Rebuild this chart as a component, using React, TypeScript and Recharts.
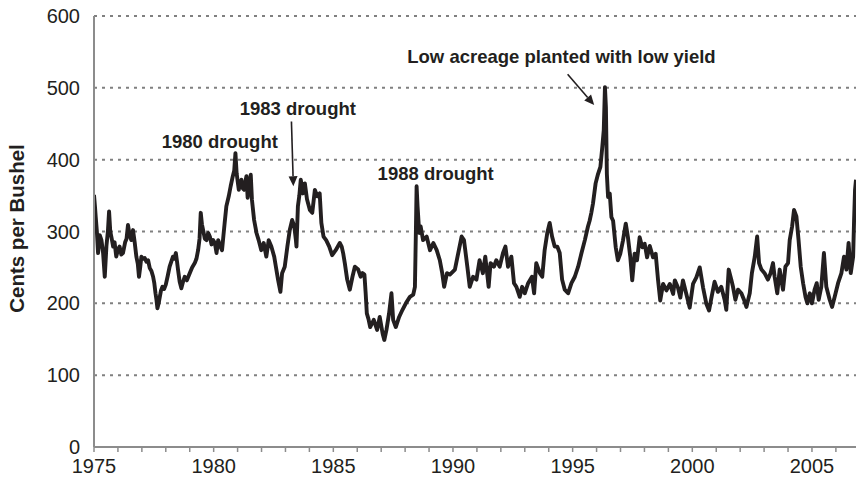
import React from 'react'
import {
  LineChart,
  Line,
  XAxis,
  YAxis,
  CartesianGrid,
  ReferenceLine,
  ReferenceDot
} from 'recharts'

// weekly-ish corn price readings, [year, cents per bushel]
const prices1975to1979: [number, number][] = [
  [1975.0, 351], [1975.04, 335], [1975.07, 321], [1975.12, 300], [1975.17, 270], [1975.24, 295],
  [1975.31, 288], [1975.38, 270], [1975.45, 237], [1975.52, 280], [1975.58, 300], [1975.63, 328],
  [1975.68, 300], [1975.74, 290], [1975.8, 279], [1975.86, 285], [1975.93, 265], [1976.0, 275],
  [1976.07, 279], [1976.14, 268], [1976.21, 270], [1976.3, 285], [1976.36, 290], [1976.42, 309],
  [1976.49, 295], [1976.56, 288], [1976.63, 302], [1976.7, 285], [1976.77, 265], [1976.83, 255],
  [1976.88, 237], [1976.93, 250], [1976.98, 265], [1977.05, 262], [1977.12, 263], [1977.19, 258],
  [1977.26, 260], [1977.33, 249], [1977.4, 245], [1977.47, 237], [1977.52, 228], [1977.57, 214],
  [1977.61, 205], [1977.65, 193], [1977.7, 200], [1977.75, 209], [1977.8, 218], [1977.86, 223],
  [1977.93, 220], [1978.0, 226], [1978.08, 238], [1978.16, 251], [1978.23, 258], [1978.3, 265],
  [1978.36, 262], [1978.42, 270], [1978.47, 258], [1978.51, 247], [1978.58, 230], [1978.65, 221],
  [1978.72, 230], [1978.79, 237], [1978.88, 232], [1979.0, 242], [1979.1, 250], [1979.21, 256],
  [1979.28, 262], [1979.35, 274], [1979.41, 290], [1979.46, 326], [1979.51, 310], [1979.56, 302],
  [1979.63, 290], [1979.7, 288], [1979.77, 298], [1979.84, 293], [1979.91, 282], [1979.98, 288]
]

const prices1980to1984: [number, number][] = [
  [1980.05, 284], [1980.12, 270], [1980.19, 288], [1980.27, 280], [1980.35, 274], [1980.41, 295],
  [1980.46, 312], [1980.53, 335], [1980.63, 349], [1980.71, 363], [1980.8, 377], [1980.86, 385],
  [1980.91, 409], [1980.96, 381], [1981.05, 358], [1981.1, 368], [1981.16, 372], [1981.22, 360],
  [1981.27, 358], [1981.33, 370], [1981.37, 377], [1981.42, 347], [1981.48, 362], [1981.55, 379],
  [1981.6, 344], [1981.69, 316], [1981.79, 298], [1981.88, 288], [1981.99, 274], [1982.09, 284],
  [1982.2, 265], [1982.3, 288], [1982.41, 279], [1982.53, 265], [1982.6, 251], [1982.69, 233],
  [1982.79, 216], [1982.86, 242], [1982.97, 251], [1983.08, 279], [1983.18, 302], [1983.28, 316],
  [1983.37, 307], [1983.43, 290], [1983.46, 279], [1983.52, 335], [1983.58, 350], [1983.64, 372],
  [1983.73, 353], [1983.81, 367], [1983.9, 345], [1984.02, 330], [1984.12, 326], [1984.23, 358],
  [1984.33, 349], [1984.43, 353], [1984.5, 312], [1984.59, 293], [1984.7, 288], [1984.83, 279],
  [1984.95, 267]
]

const prices1985to1989: [number, number][] = [
  [1985.1, 274], [1985.27, 284], [1985.35, 279], [1985.41, 270], [1985.48, 256], [1985.58, 233],
  [1985.69, 219], [1985.8, 237], [1985.9, 251], [1986.04, 247], [1986.14, 237], [1986.22, 242],
  [1986.3, 240], [1986.35, 215], [1986.4, 186], [1986.47, 178], [1986.54, 167], [1986.69, 177],
  [1986.83, 163], [1986.94, 181], [1987.06, 158], [1987.13, 149], [1987.22, 163], [1987.33, 186],
  [1987.43, 214], [1987.5, 177], [1987.61, 167], [1987.75, 181], [1987.89, 191], [1988.03, 200],
  [1988.2, 209], [1988.34, 212], [1988.41, 223], [1988.45, 300], [1988.48, 363], [1988.52, 335],
  [1988.59, 298], [1988.65, 307], [1988.75, 288], [1988.9, 293], [1989.04, 274], [1989.18, 284],
  [1989.32, 274], [1989.45, 260], [1989.55, 242], [1989.63, 223], [1989.75, 242], [1989.87, 240]
]

const prices1990to1994: [number, number][] = [
  [1990.08, 247], [1990.22, 270], [1990.36, 293], [1990.46, 288], [1990.6, 251], [1990.7, 223],
  [1990.84, 237], [1990.98, 233], [1991.11, 260], [1991.25, 242], [1991.35, 265], [1991.49, 223],
  [1991.57, 256], [1991.71, 251], [1991.81, 260], [1991.95, 251], [1992.09, 270], [1992.19, 279],
  [1992.3, 251], [1992.44, 265], [1992.55, 228], [1992.65, 223], [1992.79, 209], [1992.89, 223],
  [1993.0, 214], [1993.14, 228], [1993.3, 237], [1993.39, 214], [1993.48, 256], [1993.63, 242],
  [1993.73, 237], [1993.83, 274], [1993.94, 298], [1994.04, 312], [1994.14, 293], [1994.25, 279],
  [1994.36, 279], [1994.46, 270], [1994.56, 233], [1994.67, 219], [1994.81, 214], [1994.95, 228]
]

const prices1995to1999: [number, number][] = [
  [1995.09, 237], [1995.23, 251], [1995.37, 270], [1995.51, 288], [1995.64, 307], [1995.71, 315],
  [1995.78, 326], [1995.85, 339], [1995.96, 367], [1996.06, 380], [1996.16, 390], [1996.24, 418],
  [1996.3, 441], [1996.35, 501], [1996.39, 473], [1996.43, 380], [1996.48, 348], [1996.55, 353],
  [1996.62, 320], [1996.69, 315], [1996.8, 278], [1996.89, 260], [1996.99, 269], [1997.1, 287],
  [1997.22, 311], [1997.31, 292], [1997.41, 264], [1997.49, 232], [1997.59, 269], [1997.69, 260],
  [1997.8, 292], [1997.91, 278], [1998.01, 283], [1998.11, 264], [1998.22, 280], [1998.36, 264],
  [1998.47, 269], [1998.57, 232], [1998.66, 204], [1998.78, 227], [1998.92, 218], [1999.06, 227],
  [1999.2, 213], [1999.27, 232], [1999.4, 222], [1999.5, 208], [1999.61, 232], [1999.75, 213],
  [1999.89, 194]
]

const prices2000to2006: [number, number][] = [
  [2000.03, 227], [2000.17, 236], [2000.31, 250], [2000.45, 222], [2000.59, 199], [2000.7, 190],
  [2000.8, 208], [2000.93, 230], [2001.07, 216], [2001.21, 223], [2001.35, 205], [2001.42, 191],
  [2001.52, 247], [2001.63, 233], [2001.7, 223], [2001.8, 205], [2001.91, 219], [2002.05, 214],
  [2002.16, 205], [2002.26, 195], [2002.4, 214], [2002.49, 242], [2002.61, 265], [2002.71, 293],
  [2002.79, 256], [2002.89, 247], [2003.02, 242], [2003.16, 233], [2003.27, 242], [2003.37, 256],
  [2003.44, 237], [2003.55, 214], [2003.65, 247], [2003.79, 219], [2003.89, 251], [2004.0, 256],
  [2004.07, 288], [2004.17, 307], [2004.25, 330], [2004.35, 321], [2004.44, 288], [2004.53, 251],
  [2004.63, 228], [2004.73, 209], [2004.81, 200], [2004.91, 214], [2005.0, 200], [2005.11, 219],
  [2005.2, 228], [2005.28, 205], [2005.39, 223], [2005.5, 270], [2005.6, 223], [2005.74, 205],
  [2005.84, 195], [2005.95, 209], [2006.09, 228], [2006.23, 242], [2006.34, 265], [2006.44, 247],
  [2006.53, 284], [2006.62, 242], [2006.72, 265], [2006.76, 316], [2006.8, 358], [2006.84, 372]
]

const tickYears = [
  1975, 1976, 1977, 1978, 1979, 1980, 1981, 1982, 1983, 1984, 1985, 1986, 1987, 1988, 1989, 1990,
  1991, 1992, 1993, 1994, 1995, 1996, 1997, 1998, 1999, 2000, 2001, 2002, 2003, 2004, 2005, 2006
]
const yTicks = [0, 100, 200, 300, 400, 500, 600]

// text annotations: [year, cents] of the text start / baseline
const notes: { text: string; t: number; v: number }[] = [
  { text: '1980 drought', t: 1977.83, v: 416 },
  { text: '1983 drought', t: 1981.09, v: 462 },
  { text: '1988 drought', t: 1986.85, v: 371 },
  { text: 'Low acreage planted with low yield', t: 1988.09, v: 535 }
]

// arrows: from -> tip
const arrows: { from: [number, number]; to: [number, number] }[] = [
  { from: [1983.25, 453], to: [1983.33, 363] },
  { from: [1994.79, 519], to: [1995.9, 476] }
]

const data = [
  ...prices1975to1979,
  ...prices1980to1984,
  ...prices1985to1989,
  ...prices1990to1994,
  ...prices1995to1999,
  ...prices2000to2006
].map(([t, v]) => ({ t, v }))

const INK = '#231f20'
const FONT = '"Liberation Sans", Arial, Helvetica, sans-serif'

const Arrow = (props: any) => {
  const { x1, y1, x2, y2 } = props
  const dx = x2 - x1
  const dy = y2 - y1
  const len = Math.sqrt(dx * dx + dy * dy) || 1
  const ux = dx / len
  const uy = dy / len
  const head = 10
  const half = 4.5
  const bx = x2 - ux * head
  const by = y2 - uy * head
  return (
    <g>
      <line x1={x1} y1={y1} x2={bx} y2={by} stroke={INK} strokeWidth={1.6} />
      <polygon
        points={`${x2},${y2} ${bx - uy * half},${by + ux * half} ${bx + uy * half},${by - ux * half}`}
        fill={INK}
      />
    </g>
  )
}

export default function App() {
  return (
    <div style={{ position: 'absolute', left: 0, top: 0, width: 856, height: 480, background: '#fff' }}>
      <LineChart width={856} height={480} data={data} margin={{ top: 16, right: 0, left: 0, bottom: 3 }}>
        <CartesianGrid vertical={false} stroke="#808080" strokeWidth={2} strokeDasharray="3 5" />
        <XAxis
          type="number"
          dataKey="t"
          domain={[1975, 2006.84]}
          allowDataOverflow
          ticks={tickYears}
          interval={0}
          height={30}
          tickSize={5}
          tickMargin={7}
          tickFormatter={(v: number) => (v % 5 === 0 ? String(v) : '')}
          axisLine={{ stroke: '#8c8c8c', strokeWidth: 2 }}
          tickLine={{ stroke: '#8c8c8c', strokeWidth: 1.5 }}
          tick={{ fill: INK, fontSize: 20, fontFamily: FONT }}
        />
        <YAxis
          domain={[0, 600]}
          ticks={yTicks}
          interval={0}
          width={94}
          tickLine={false}
          tickSize={0}
          tickMargin={14}
          axisLine={{ stroke: '#8c8c8c', strokeWidth: 2 }}
          tick={{ fill: INK, fontSize: 20, fontFamily: FONT }}
          label={{
            content: ({ viewBox }: any) => (
              <text
                transform={`translate(${viewBox.x + 24},${viewBox.y + viewBox.height / 2 - 3}) rotate(-90)`}
                textAnchor="middle"
                fill={INK}
                fontSize={20.5}
                fontWeight="bold"
                fontFamily={FONT}
              >
                Cents per Bushel
              </text>
            )
          }}
        />
        <Line
          type="linear"
          dataKey="v"
          stroke={INK}
          strokeWidth={3.9}
          strokeLinejoin="round"
          dot={false}
          activeDot={false}
          isAnimationActive={false}
        />
        {arrows.map((a, i) => (
          <ReferenceLine
            key={`arrow-${i}`}
            segment={[
              { x: a.from[0], y: a.from[1] },
              { x: a.to[0], y: a.to[1] }
            ]}
            shape={(p: any) => <Arrow {...p} />}
          />
        ))}
        {notes.map((n, i) => (
          <ReferenceDot
            key={`note-${i}`}
            x={n.t}
            y={n.v}
            shape={(p: any) => (
              <text x={p.cx} y={p.cy} fill={INK} fontSize={18.5} fontWeight="bold" fontFamily={FONT}>
                {n.text}
              </text>
            )}
          />
        ))}
      </LineChart>
    </div>
  )
}
